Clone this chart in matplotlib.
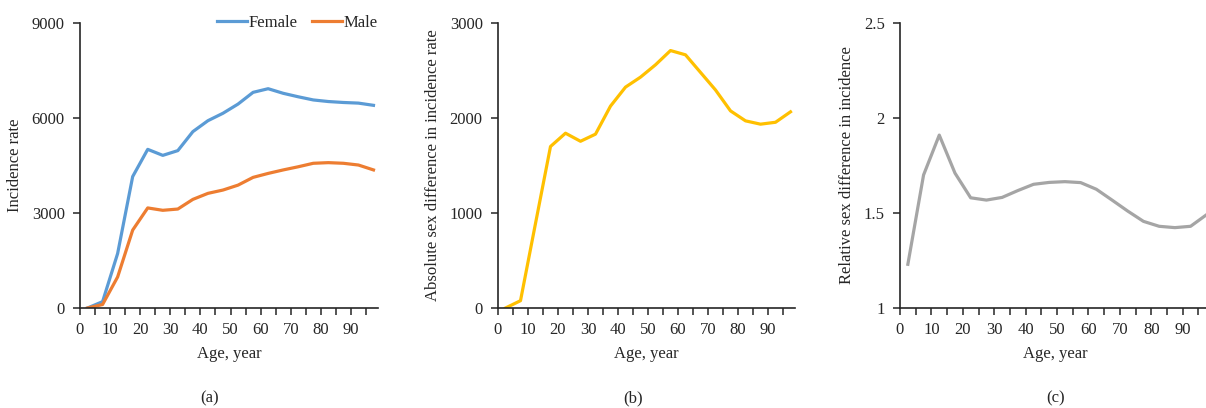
import numpy as np
import matplotlib
matplotlib.use("Agg")
import matplotlib.pyplot as plt
from matplotlib.ticker import MultipleLocator

# age group mid-points (0-4, 5-9, ..., 95+)
ages = [2.5, 7.5, 12.5, 17.5, 22.5, 27.5, 32.5, 37.5, 42.5, 47.5,
        52.5, 57.5, 62.5, 67.5, 72.5, 77.5, 82.5, 87.5, 92.5, 97.5]

female = [0, 200, 1720, 4150, 5010, 4820, 4970, 5570, 5915, 6150,
          6440, 6810, 6925, 6780, 6670, 6570, 6520, 6490, 6470, 6400]
male = [0, 110, 980, 2460, 3160, 3085, 3125, 3430, 3620, 3725,
        3880, 4125, 4250, 4360, 4460, 4570, 4590, 4570, 4515, 4360]

abs_diff = [0, 77, 890, 1700, 1840, 1755, 1830, 2125, 2325, 2430,
            2560, 2710, 2665, 2480, 2295, 2075, 1970, 1935, 1955, 2065]

rel_diff = [1.23, 1.70, 1.91, 1.71, 1.58, 1.568, 1.582, 1.618, 1.651, 1.661,
            1.665, 1.66, 1.625, 1.568, 1.51, 1.456, 1.43, 1.423, 1.43, 1.49]

plt.rcParams['font.family'] = ['Liberation Serif', 'DejaVu Serif']
plt.rcParams['font.size'] = 12

W, H = 1206, 408
fig = plt.figure(figsize=(W / 100, H / 100), dpi=100)


def make_axes(left, right, top=23, bottom=308):
    return fig.add_axes([left / W, 1 - bottom / H, (right - left) / W, (bottom - top) / H])


def style(ax, ylim, ystep, ylabel, tag):
    for s in ['top', 'right']:
        ax.spines[s].set_visible(False)
    for s in ['left', 'bottom']:
        ax.spines[s].set_color('#262626')
        ax.spines[s].set_linewidth(1.2)
    ax.set_xlim(0, 99)
    ax.set_ylim(*ylim)
    ax.xaxis.set_major_locator(MultipleLocator(10))
    ax.xaxis.set_minor_locator(MultipleLocator(5))
    ax.yaxis.set_major_locator(MultipleLocator(ystep))
    ax.set_xticks([0, 10, 20, 30, 40, 50, 60, 70, 80, 90])
    ax.tick_params(axis='both', which='both', direction='out', length=5,
                   width=1.1, color='#262626', labelcolor='#262626')
    ax.tick_params(axis='x', pad=5)
    ax.tick_params(axis='y', pad=6)
    ax.set_xlabel('Age, year', labelpad=6, color='#262626')
    ax.set_ylabel(ylabel, labelpad=6, color='#262626')
    ax.text(0.5, 0.0, tag, transform=ax.transAxes, ha='center', va='top',
            color='#262626')


# (a)
ax1 = make_axes(80, 378)
ax1.plot(ages, female, color='#5B9BD5', lw=2.3, label='Female')
ax1.plot(ages, male, color='#ED7D31', lw=2.3, label='Male')
style(ax1, (0, 9000), 3000, 'Incidence rate', '')
ax1.legend(loc='center right', bbox_to_anchor=(1.0, 1.0), ncol=2, frameon=False,
           borderpad=0, borderaxespad=0, handlelength=1.8, handletextpad=0.1,
           columnspacing=0.9, labelcolor='#262626')

# (b)
ax2 = make_axes(498, 795)
ax2.plot(ages, abs_diff, color='#FFC000', lw=2.3)
style(ax2, (0, 3000), 1000, 'Absolute sex difference in incidence rate', '')

# (c)
ax3 = make_axes(900, 1211)
ax3.plot(ages, rel_diff, color='#A5A5A5', lw=2.3)
style(ax3, (1, 2.5), 0.5, 'Relative sex difference in incidence', '')
ax3.set_yticks([1, 1.5, 2, 2.5])
ax3.set_yticklabels(['1', '1.5', '2', '2.5'])

# panel tags
for x, tag in [(210, '(a)'), (633, '(b)'), (1056, '(c)')]:
    fig.text(x / W, 1 - 398 / H, tag, ha='center', va='center', color='#262626')

fig.savefig('out.png', dpi=100)
